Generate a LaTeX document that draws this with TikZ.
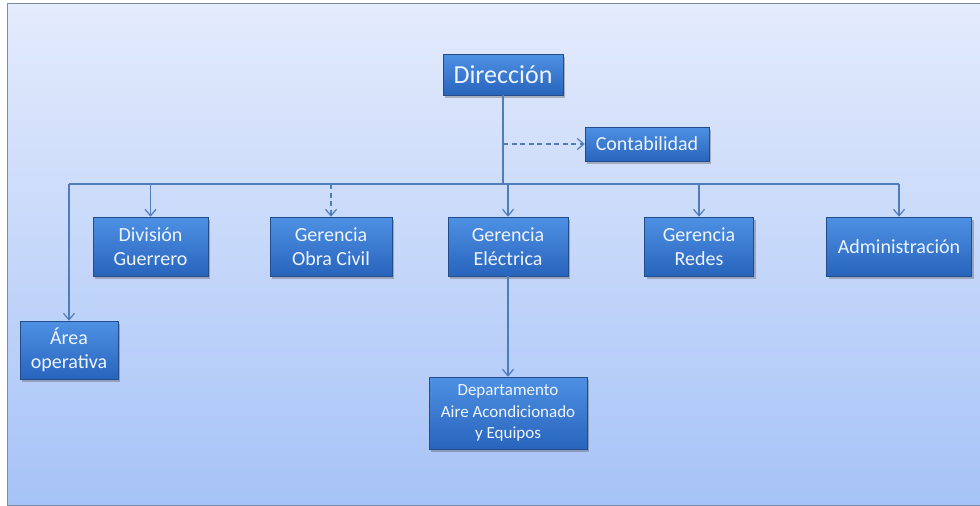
\documentclass[tikz,border=0pt]{standalone}
\usepackage{fontspec}
\setmainfont{Carlito}
\usetikzlibrary{arrows.meta,shadows}
\definecolor{bgtop}{RGB}{228,235,252}
\definecolor{bgbot}{RGB}{166,195,247}
\definecolor{frame}{RGB}{125,140,165}
\definecolor{boxtop}{RGB}{78,145,228}
\definecolor{boxmid}{RGB}{54,120,208}
\definecolor{boxbot}{RGB}{40,100,188}
\definecolor{boxedge}{RGB}{36,76,136}
\definecolor{boxtext}{RGB}{238,244,255}
\definecolor{conncol}{RGB}{79,125,185}
\tikzset{
  box/.style={draw=boxedge, line width=0.6pt, top color=boxtop, middle color=boxmid, bottom color=boxbot,
    text=boxtext, align=center, inner sep=0pt,
    drop shadow={shadow xshift=2pt, shadow yshift=-2.5pt, opacity=0.35, fill=black!70},
    font=\fontsize{20}{24.5}\selectfont},
  childbox/.style={box, minimum height=59pt},
  conn/.style={draw=conncol, line width=1.2pt, -{Straight Barb[length=6.5pt,width=11pt]}},
  dashconn/.style={conn, dash pattern=on 5pt off 3.5pt},
  plain/.style={draw=conncol, line width=1.2pt},
}
\begin{document}
\begin{tikzpicture}[x=1pt,y=-1pt]
\useasboundingbox (0,0) rectangle (980,506);
\fill[white] (0,0) rectangle (980,506);
\shade[top color=bgtop, bottom color=bgbot, draw=frame, line width=1pt] (7,3) rectangle (982,505);

\node[box, minimum width=120pt, minimum height=41pt, font=\fontsize{26}{30}\selectfont] (dir) at (503,74.5) {Dirección};
\node[box, minimum width=124pt, minimum height=34pt] (cont) at (647,144) {Contabilidad};
\node[childbox, minimum width=115pt] (div) at (150.5,246.5) {División\\Guerrero};
\node[childbox, minimum width=122pt] (obra) at (331,246.5) {Gerencia\\Obra Civil};
\node[childbox, minimum width=120pt] (elec) at (508,246.5) {Gerencia\\Eléctrica};
\node[childbox, minimum width=109pt] (redes) at (699,246.5) {Gerencia\\Redes};
\node[childbox, minimum width=145pt] (admin) at (899,246.5) {Administración};
\node[childbox, minimum width=98pt, minimum height=58pt] (area) at (69,350) {Área\\operativa};
\node[box, minimum width=158pt, minimum height=72pt, font=\fontsize{17}{21.5}\selectfont] (depto) at (508,413) {Departamento\\Aire Acondicionado\\y Equipos};

\coordinate (busL) at (69,184);
\coordinate (busR) at (899,184);
\draw[plain] (busL) -- (busR);
\draw[plain] (dir.south) -- (dir.south |- busL);
\draw[dashconn] (dir.south |- cont.west) -- (cont.west);
\draw[conn] (busL) -- (area.north);
\draw[conn] (div.north |- busL) -- (div.north);
\draw[dashconn] (obra.north |- busL) -- (obra.north);
\draw[conn] (elec.north |- busL) -- (elec.north);
\draw[conn] (redes.north |- busL) -- (redes.north);
\draw[conn] (admin.north |- busL) -- (admin.north);
\draw[conn] (elec.south) -- (depto.north);
\end{tikzpicture}
\end{document}
